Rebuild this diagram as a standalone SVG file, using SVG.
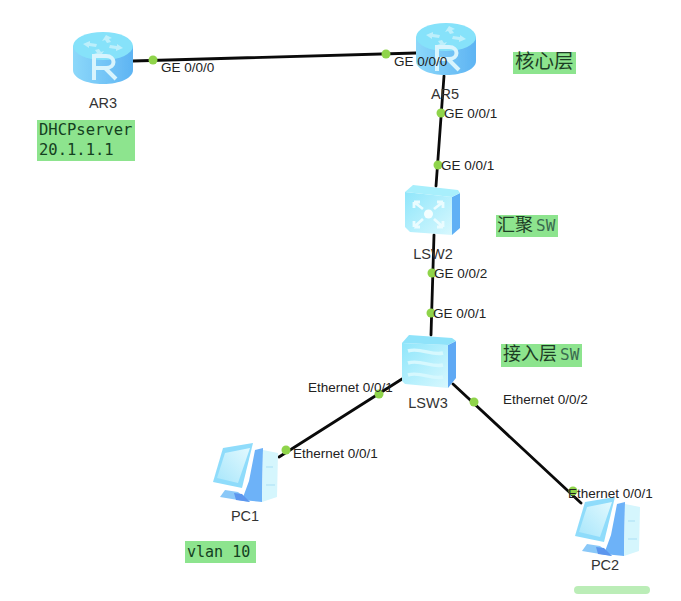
<svg xmlns="http://www.w3.org/2000/svg" width="681" height="601" viewBox="0 0 681 601">
<style>
.lbl{font-family:"Liberation Sans",Arial,sans-serif;font-size:13.500px;fill:#222}
.name{font-family:"Liberation Sans",Arial,sans-serif;font-size:14.500px;fill:#333}
.note{font-family:"DejaVu Sans Mono","Liberation Mono",monospace;font-size:15.500px;fill:#14401f}
.cjk{font-family:"Noto Sans CJK SC","Liberation Sans",sans-serif;font-size:18px;fill:#1d3d25}
.sw{font-family:"DejaVu Sans Mono","Liberation Mono",monospace;font-size:16px;fill:#3a6b50}
.bg{fill:#8de48e}
.link{stroke:#0a0a0a;stroke-width:2.800;fill:none;stroke-linecap:round}
.dot{fill:#8fd44a}
.soft{filter:url(#soft)}
</style>
<defs>
<filter id="soft" x="-10%" y="-10%" width="120%" height="120%"><feGaussianBlur stdDeviation=".5"/></filter>
<linearGradient id="rb" x1="0" x2="1" y1="0" y2="0"><stop offset="0" stop-color="#8cd8fa"/><stop offset="1" stop-color="#5eb4f3"/></linearGradient>
<linearGradient id="sw" x1="0" x2="1" y1="0" y2="1"><stop offset="0" stop-color="#8fe6fb"/><stop offset="1" stop-color="#d8f8fe"/></linearGradient>
<linearGradient id="scr" x1="0" x2="1" y1="1" y2="0"><stop offset="0" stop-color="#a8e6fb"/><stop offset="1" stop-color="#e2f9fe"/></linearGradient>
<g id="router">
<path d="M0 14V38C0 46 13 52 30 52S60 46 60 38V14Z" fill="url(#rb)"/>
<ellipse cx="30" cy="14" rx="30" ry="14" fill="#86e2fa"/>
<g fill="#bdeffb"><path d="M33 3l6 3-3 1 2 3-4 1-2-3-3 1zM27 25l-6-3 3-1-2-3 4-1 2 3 3-1zM10 12l7-3v2l7 1-1 3-7-1v2zM50 16l-7 3v-2l-7-1 1-3 7 1v-2z"/></g>
<path d="M21 48V24H33C43 24 43 36 33 36H22M32 36L43 47" fill="none" stroke="#d8f4fd" stroke-width="4"/>
</g>
<g id="core">
<path d="M47 12L55 8V43L47 50Z" fill="#5fb0f5"/>
<path d="M0 7L47 12V50L5 47 0 42Z" fill="url(#sw)"/>
<path d="M0 7L8 0 53 5 55 8 47 12Z" fill="#a8effc"/>
<g stroke="#eafcff" stroke-width="2.800" fill="none"><path d="M9 17L18 24M9 17h6M9 17v6M38 17L29 24M38 17h-6M38 17v6M9 42L18 34M9 42h6M9 42v-6M38 42L29 34M38 42h-6M38 42v-6"/></g>
<circle cx="23.500" cy="29" r="4.500" fill="#f4feff"/>
</g>
<g id="access">
<path d="M46 10L54 6V43L46 53Z" fill="#5fa9f4"/>
<path d="M0 8L46 10V53L3 49 0 46Z" fill="url(#sw)"/>
<path d="M0 8L7 0 50 3 54 6 46 10Z" fill="#8fe3fa"/>
<g stroke="#d6f8fe" stroke-width="3.500" fill="none"><path d="M6 16C18 12 30 21 41 18M6 28C18 24 30 33 41 30M6 40C18 36 30 45 41 42"/></g>
</g>
<g id="pc">
<path d="M43 7L51 5 50 59 30 57 37 38Z" fill="#6db2f8"/>
<path d="M51 7L66 10 65 54 50 59Z" fill="#d5f6fd"/>
<path d="M11 5L41 0 30 45 1 39Z" fill="#8fdcfb"/>
<path d="M13 10L38 5 26 40 5 35Z" fill="url(#scr)"/>
<path d="M13 47L26 49 38 59 8 54Z" fill="#8ac8f8"/>
<path d="M22 50L30 51 38 59 24 57Z" fill="#5c96ee"/>
<path d="M54 24h7M54 42h9" stroke="#a9dff5" stroke-width="1"/>
</g>
</defs>
<rect width="681" height="601" fill="#fff"/>
<g id="connectors">
<path class="link" d="M133 61L416 53"/>
<path class="link" d="M444 76L436 186"/>
<path class="link" d="M434 235L431 335"/>
<path class="link" d="M402 379L279 457"/>
<path class="link" d="M453 384L581 503"/>
<circle class="dot" cx="153" cy="60" r="4.500"/><circle class="dot" cx="386" cy="54" r="4.500"/>
<circle class="dot" cx="441" cy="113" r="4.500"/><circle class="dot" cx="438" cy="165" r="4.500"/>
<circle class="dot" cx="432" cy="273" r="4.500"/><circle class="dot" cx="431" cy="313" r="4.500"/>
<circle class="dot" cx="379" cy="394" r="4.500"/><circle class="dot" cx="474" cy="402" r="4.500"/>
<circle class="dot" cx="286" cy="450" r="4.500"/><circle class="dot" cx="573" cy="491" r="4.500"/>
</g>
<g id="AR3"><use class="soft" href="#router" x="73" y="32"/><text class="name" x="103" y="108" text-anchor="middle">AR3</text></g>
<g id="AR5"><use class="soft" href="#router" x="416" y="23"/><text class="name" x="445" y="99" text-anchor="middle">AR5</text></g>
<g id="LSW2"><use class="soft" href="#core" x="405" y="185"/><text class="name" x="433" y="259" text-anchor="middle">LSW2</text></g>
<g id="LSW3"><use class="soft" href="#access" x="402" y="335"/><text class="name" x="428" y="408" text-anchor="middle">LSW3</text></g>
<g id="PC1"><use class="soft" href="#pc" x="212" y="443"/><text class="name" x="245" y="521" text-anchor="middle">PC1</text></g>
<g id="PC2"><use class="soft" href="#pc" x="574" y="497"/><text class="name" x="605" y="570" text-anchor="middle">PC2</text></g>
<g id="labels">
<text class="lbl" x="161" y="72">GE 0/0/0</text>
<text class="lbl" x="394" y="66">GE 0/0/0</text>
<text class="lbl" x="444" y="118">GE 0/0/1</text>
<text class="lbl" x="441" y="170">GE 0/0/1</text>
<text class="lbl" x="434" y="278">GE 0/0/2</text>
<text class="lbl" x="433" y="318">GE 0/0/1</text>
<text class="lbl" x="308" y="392">Ethernet 0/0/1</text>
<text class="lbl" x="503" y="404">Ethernet 0/0/2</text>
<text class="lbl" x="293" y="458">Ethernet 0/0/1</text>
<text class="lbl" x="568" y="498">Ethernet 0/0/1</text>
</g>
<g id="note-dhcp"><rect class="bg" x="37" y="120" width="98" height="41"/><text class="note" x="39" y="135">DHCPserver</text><text class="note" x="39" y="155">20.1.1.1</text></g>
<g id="note-core"><rect class="bg" x="513" y="52" width="63" height="22"/><text class="cjk" x="515" y="68" style="font-size:19.500px">核心层</text></g>
<g id="note-agg"><rect class="bg" x="496" y="215" width="62" height="22"/><text class="cjk" x="497" y="231">汇聚</text><text class="sw" x="536" y="231">SW</text></g>
<g id="note-access"><rect class="bg" x="501" y="344" width="81" height="23"/><text class="cjk" x="503" y="360">接入层</text><text class="sw" x="560" y="360">SW</text></g>
<g id="note-vlan"><rect class="bg" x="185" y="541" width="71" height="22"/><text class="note" x="187" y="557" style="font-size:15px">vlan 10</text></g>
<rect class="soft" x="574" y="586" width="76" height="8" rx="4" fill="#9fe69a" opacity=".7"/>
</svg>
